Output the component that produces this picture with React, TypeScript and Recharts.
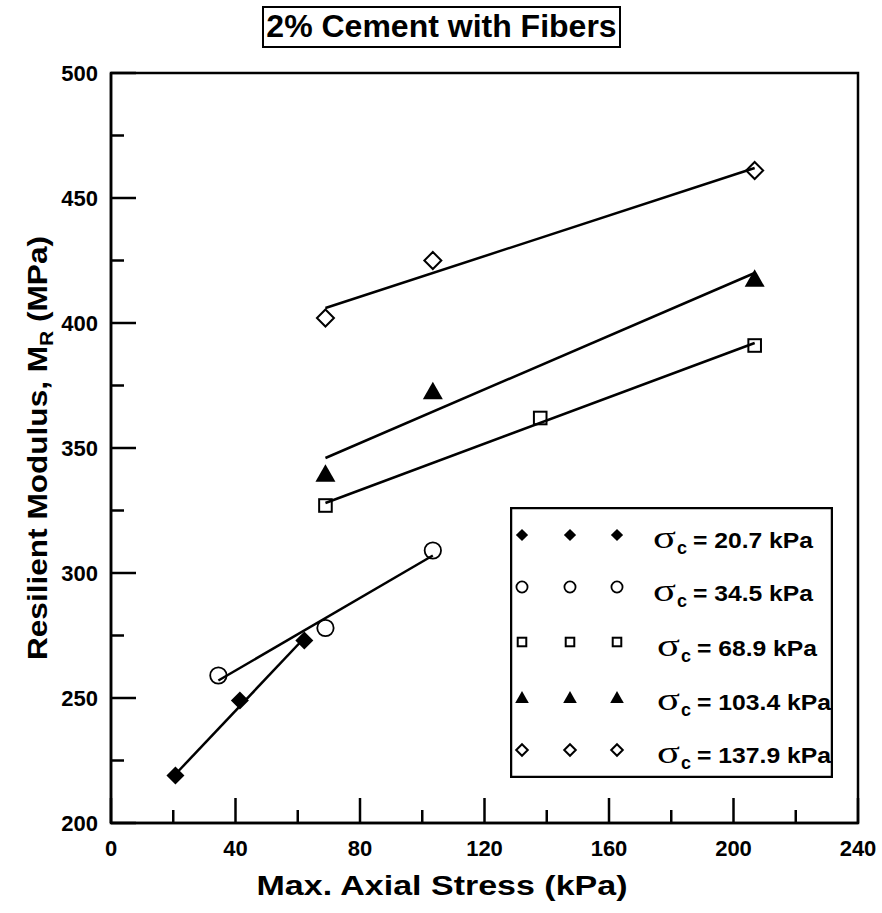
import React from 'react'
import { ScatterChart, Scatter, XAxis, YAxis, ReferenceArea, Legend } from 'recharts'

// confining stress groups (kPa)
const groupLabels = ['20.7', '34.5', '68.9', '103.4', '137.9']

// measured points, x = max axial stress (kPa), y = resilient modulus (MPa)
const s207X = [20.7, 41.4, 62.1]
const s207Y = [219, 249, 273]
const s345X = [34.5, 68.9, 103.4]
const s345Y = [259, 278, 309]
const s689X = [68.9, 137.9, 206.8]
const s689Y = [327, 362, 391]
const s1034X = [68.9, 103.4, 206.8]
const s1034Y = [340, 373, 418]
const s1379X = [68.9, 103.4, 206.8]
const s1379Y = [402, 425, 461]

// fitted trend lines (end points)
const fit207X = [20.7, 62.1]
const fit207Y = [219.5, 274]
const fit345X = [34.5, 103.4]
const fit345Y = [257, 307]
const fit689X = [68.9, 206.8]
const fit689Y = [328, 392]
const fit1034X = [68.9, 206.8]
const fit1034Y = [346, 420]
const fit1379X = [68.9, 206.8]
const fit1379Y = [406, 462]

const xTicks = [0, 20, 40, 60, 80, 100, 120, 140, 160, 180, 200, 220, 240]
const yTicks = [200, 225, 250, 275, 300, 325, 350, 375, 400, 425, 450, 475, 500]

const toPts = (xs: number[], ys: number[]) => xs.map((x, i) => ({ x, y: ys[i] }))

const FONT = '"Liberation Sans", Arial, sans-serif'

type Kind = 'diamondFill' | 'circle' | 'square' | 'triangle' | 'diamond'

function Marker({ kind, cx, cy, s }: { kind: Kind; cx: number; cy: number; s: number }) {
  if (kind === 'diamondFill') {
    const h = 9 * s
    return <polygon points={`${cx},${cy - h} ${cx + h},${cy} ${cx},${cy + h} ${cx - h},${cy}`} fill="#000" />
  }
  if (kind === 'diamond') {
    const h = 8.5 * s
    return (
      <polygon
        points={`${cx},${cy - h} ${cx + h},${cy} ${cx},${cy + h} ${cx - h},${cy}`}
        fill="none"
        stroke="#000"
        strokeWidth={2}
      />
    )
  }
  if (kind === 'circle') {
    return <circle cx={cx} cy={cy} r={8.2 * s} fill="none" stroke="#000" strokeWidth={1.8} />
  }
  if (kind === 'square') {
    const h = 6.3 * s
    return <rect x={cx - h} y={cy - h} width={2 * h} height={2 * h} fill="none" stroke="#000" strokeWidth={2} />
  }
  const w = 10 * s
  const t = 8.8 * s
  return <polygon points={`${cx},${cy - t} ${cx + w},${cy + t} ${cx - w},${cy + t}`} fill="#000" />
}

const shapeOf = (kind: Kind) => (p: any) => <Marker kind={kind} cx={p.cx} cy={p.cy} s={1} />
const noShape = () => <g />

const series: { kind: Kind; data: { x: number; y: number }[]; fit: { x: number; y: number }[] }[] = [
  { kind: 'diamondFill', data: toPts(s207X, s207Y), fit: toPts(fit207X, fit207Y) },
  { kind: 'circle', data: toPts(s345X, s345Y), fit: toPts(fit345X, fit345Y) },
  { kind: 'square', data: toPts(s689X, s689Y), fit: toPts(fit689X, fit689Y) },
  { kind: 'triangle', data: toPts(s1034X, s1034Y), fit: toPts(fit1034X, fit1034Y) },
  { kind: 'diamond', data: toPts(s1379X, s1379Y), fit: toPts(fit1379X, fit1379Y) },
]

function XTick(props: any) {
  const { x, y, payload } = props
  const major = payload.value % 40 === 0
  return (
    <g>
      <line x1={x} x2={x} y1={y} y2={y - (major ? 25 : 13)} stroke="#000" strokeWidth={2.5} />
      {major && (
        <text x={x} y={y + 33} textAnchor="middle" fontFamily={FONT} fontWeight="bold" fontSize={22} fill="#000">
          {payload.value}
        </text>
      )}
    </g>
  )
}

function YTick(props: any) {
  const { x, y, payload } = props
  const major = payload.value % 50 === 0
  return (
    <g>
      <line x1={x} x2={x + (major ? 25 : 13)} y1={y} y2={y} stroke="#000" strokeWidth={2.5} />
      {major && (
        <text x={x - 13} y={y + 8} textAnchor="end" fontFamily={FONT} fontWeight="bold" fontSize={22} fill="#000">
          {payload.value}
        </text>
      )}
    </g>
  )
}

const legendRows = [28, 80, 135, 190, 243]
const legendTextY = [41, 94, 149, 203, 256]
const legendTextX = [143, 143, 147, 147, 147]
const legendTextLen = [120, 120, 120, 134, 134]

function LegendBox() {
  return (
    <svg width={323} height={271} style={{ display: 'block' }}>
      <rect x={1} y={1} width={321} height={269} fill="#fff" stroke="#000" strokeWidth={2.5} />
      {series.map((s, i) => (
        <g key={i}>
          {[12, 60, 107].map((mx) => (
            <Marker key={mx} kind={s.kind} cx={mx} cy={legendRows[i]} s={0.68} />
          ))}
          <text
            x={legendTextX[i]}
            y={legendTextY[i]}
            fontFamily='"Liberation Serif", serif'
            fontSize={32}
            fill="#000"
            textLength={23}
            lengthAdjust="spacingAndGlyphs"
          >
            σ
          </text>
          <text
            x={legendTextX[i] + 24}
            y={legendTextY[i] + 6}
            fontFamily={FONT}
            fontWeight="bold"
            fontSize={18}
            fill="#000"
          >
            c
          </text>
          <text
            x={legendTextX[i] + 40}
            y={legendTextY[i]}
            fontFamily={FONT}
            fontWeight="bold"
            fontSize={22}
            fill="#000"
            textLength={legendTextLen[i]}
            lengthAdjust="spacingAndGlyphs"
          >
            {`= ${groupLabels[i]} kPa`}
          </text>
        </g>
      ))}
    </svg>
  )
}

export default function App() {
  return (
    <div style={{ position: 'absolute', left: 0, top: 0, width: 882, height: 913, background: '#fff' }}>
      <div
        style={{
          position: 'absolute',
          left: 262,
          top: 6,
          width: 359,
          height: 42,
          boxSizing: 'border-box',
          border: '2.5px solid #000',
          fontFamily: FONT,
          fontWeight: 'bold',
          fontSize: 32,
          lineHeight: '37px',
          textAlign: 'center',
          color: '#000',
          whiteSpace: 'nowrap',
        }}
      >
        2% Cement with Fibers
      </div>
      <ScatterChart width={882} height={913} margin={{ top: 73, right: 24, bottom: 50, left: 51 }}>
        <XAxis
          type="number"
          dataKey="x"
          domain={[0, 240]}
          ticks={xTicks}
          interval={0}
          tickSize={0}
          tickMargin={0}
          tickLine={false}
          tick={<XTick />}
          height={40}
          axisLine={{ stroke: '#000', strokeWidth: 2.5 }}
          allowDataOverflow
        />
        <YAxis
          type="number"
          dataKey="y"
          domain={[200, 500]}
          ticks={yTicks}
          interval={0}
          tickSize={0}
          tickMargin={0}
          tickLine={false}
          tick={<YTick />}
          width={60}
          axisLine={{ stroke: '#000', strokeWidth: 2.5 }}
          allowDataOverflow
        />
        <ReferenceArea x1={0} x2={240} y1={200} y2={500} fill="none" stroke="#000" strokeWidth={2.5} />
        {series.map((s, i) => (
          <Scatter
            key={'fit' + i}
            data={s.fit}
            line={{ stroke: '#000', strokeWidth: 2.5 }}
            shape={noShape}
            legendType="none"
            isAnimationActive={false}
          />
        ))}
        {series.map((s, i) => (
          <Scatter
            key={'pts' + i}
            data={s.data}
            shape={shapeOf(s.kind)}
            legendType="none"
            isAnimationActive={false}
          />
        ))}
        <Legend
          layout="vertical"
          align="center"
          verticalAlign="middle"
          content={() => <LegendBox />}
          wrapperStyle={{ position: 'absolute', left: 510, top: 507, width: 323, height: 271 }}
        />
      </ScatterChart>
      <svg width={882} height={913} style={{ position: 'absolute', left: 0, top: 0, pointerEvents: 'none' }}>
        <text
          transform="translate(47,448) rotate(-90)"
          textAnchor="middle"
          fontFamily={FONT}
          fontWeight="bold"
          fontSize={27}
          fill="#000"
          textLength={424}
          lengthAdjust="spacingAndGlyphs"
        >
          Resilient Modulus, M
          <tspan fontSize={18} dy={6}>
            R
          </tspan>
          <tspan dy={-6}> (MPa)</tspan>
        </text>
        <text
          x={442}
          y={895}
          textAnchor="middle"
          fontFamily={FONT}
          fontWeight="bold"
          fontSize={27}
          fill="#000"
          textLength={371}
          lengthAdjust="spacingAndGlyphs"
        >
          Max. Axial Stress (kPa)
        </text>
      </svg>
    </div>
  )
}
